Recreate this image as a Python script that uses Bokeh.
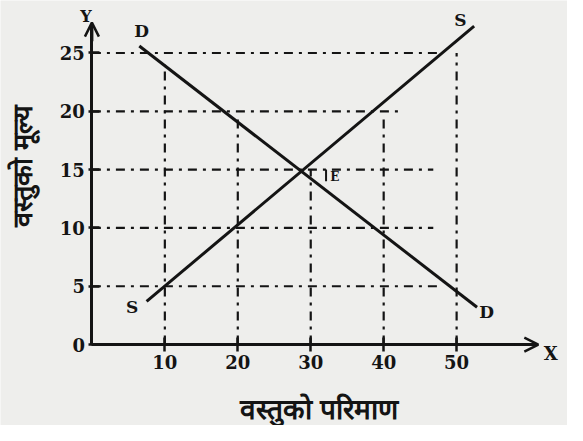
from math import pi
from bokeh.plotting import figure
from bokeh.models import Range1d, Label, Arrow, OpenHead, FixedTicker
from bokeh.embed import file_html
from bokeh.resources import INLINE

# ---- data ----
x_ticks = [10, 20, 30, 40, 50]
y_ticks = [0, 5, 10, 15, 20, 25]
y_tick_labels = ["0", "5", "10", "15", "20", "25"]

demand_q = [6.5, 52.8]
demand_p = [25.6, 3.2]
supply_q = [7.5, 52.4]
supply_p = [3.7, 27.3]

# horizontal guides: price level, right end (quantity)
h_price = [25, 20, 15, 10, 5]
h_end_q = [48.1, 42.1, 46.8, 46.8, 47.5]
# vertical guides: quantity, top (price)
v_qty = [10, 20, 30, 40, 50]
v_top_p = [24.0, 19.4, 15.0, 19.6, 25.0]

BG = "#eeeeec"
INK = "#141414"

p = figure(width=567, height=425, output_backend="svg", toolbar_location=None,
           x_range=Range1d(-12.53, 65.20), y_range=Range1d(-6.94, 29.50),
           min_border_left=0, min_border_right=0, min_border_top=0,
           min_border_bottom=0, background_fill_color=BG, border_fill_color=BG)
p.outline_line_color = None
p.grid.visible = False

p.xaxis.fixed_location = 0
p.yaxis.fixed_location = 0
p.xaxis.bounds = (0, 61)
p.yaxis.bounds = (0, 27.4)

for ax in (p.xaxis[0], p.yaxis[0]):
    ax.axis_line_width = 3
    ax.axis_line_color = INK
    ax.major_tick_line_width = 2.5
    ax.major_tick_line_color = INK
    ax.minor_tick_line_color = None
    ax.major_label_text_font = "DejaVu Serif"
    ax.major_label_text_font_style = "bold"
    ax.major_label_text_font_size = "18px"
    ax.major_label_text_color = INK

p.xaxis.major_tick_in = 7
p.xaxis.major_tick_out = 7
p.yaxis.major_tick_in = 8
p.yaxis.major_tick_out = 3
p.xaxis.ticker = FixedTicker(ticks=x_ticks)
p.yaxis.ticker = FixedTicker(ticks=y_ticks)
p.yaxis.major_label_overrides = {t: s for t, s in zip(y_ticks, y_tick_labels)}
p.xaxis.major_label_standoff = 3
p.yaxis.major_label_standoff = 4

# guides
p.segment(x0=[0] * len(h_price), y0=h_price, x1=h_end_q, y1=h_price,
          line_color=INK, line_width=2.2, line_dash="9 6 3 6")
p.segment(x0=v_qty, y0=[0] * len(v_qty), x1=v_qty, y1=v_top_p,
          line_color=INK, line_width=2.2, line_dash="9 6 3 6")
p.segment(x0=[32.1], y0=[15], x1=[32.1], y1=[14.0], line_color=INK, line_width=2)

# curves
p.line(demand_q, demand_p, line_color=INK, line_width=3)
p.line(supply_q, supply_p, line_color=INK, line_width=3)

# arrows on axes
p.add_layout(Arrow(end=OpenHead(size=14, line_width=2.5, line_color=INK),
                   x_start=0, y_start=26, x_end=0, y_end=27.6,
                   line_width=3, line_color=INK))
p.add_layout(Arrow(end=OpenHead(size=14, line_width=2.5, line_color=INK),
                   x_start=58, y_start=0, x_end=61.2, y_end=0,
                   line_width=3, line_color=INK))

def lab(x, y, t, size="17px", **kw):
    p.add_layout(Label(x=x, y=y, text=t, text_font="DejaVu Serif",
                       text_font_style="bold", text_font_size=size,
                       text_color=INK, text_align="center",
                       text_baseline="middle", **kw))

lab(6.8, 26.9, "D")
lab(50.5, 27.85, "S")
lab(5.5, 3.2, "S")
lab(54.1, 2.8, "D")
lab(33.3, 14.4, "E", size="12px")
lab(-0.8, 28.1, "Y", size="16px")
lab(62.9, -0.74, "X", size="18px")

p.add_layout(Label(x=-9.47, y=15.3, text="वस्तुको मूल्य", angle=pi / 2,
                   text_font_size="27px", text_font_style="bold", text_color=INK,
                   text_align="center", text_baseline="middle"))
p.add_layout(Label(x=31.1, y=-5.54, text="वस्तुको परिमाण",
                   text_font_size="28px", text_font_style="bold", text_color=INK,
                   text_align="center", text_baseline="middle"))

open("out.html", "w").write(file_html(p, INLINE))
